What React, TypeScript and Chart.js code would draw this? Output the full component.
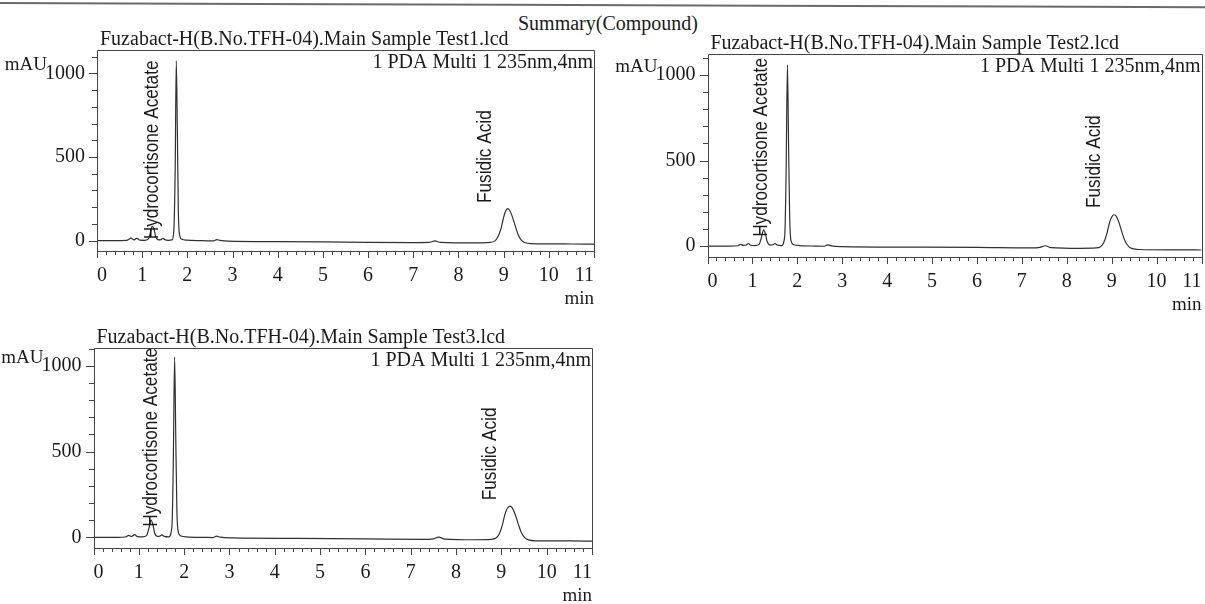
import React, { useEffect, useRef } from "react";
import { Chart, registerables } from "chart.js";

Chart.register(...registerables);

// ---------- data ----------
const pageTitle = "Summary(Compound)";
const chartTitles = [
  "Fuzabact-H(B.No.TFH-04).Main Sample Test1.lcd",
  "Fuzabact-H(B.No.TFH-04).Main Sample Test2.lcd",
  "Fuzabact-H(B.No.TFH-04).Main Sample Test3.lcd",
];
const detectorText = "1 PDA Multi 1 235nm,4nm";
const yUnit = "mAU";
const xUnit = "min";
const peakNames = ["Hydrocortisone Acetate", "Fusidic Acid"];

// axis tick labels
const xTickValues = [0, 1, 2, 3, 4, 5, 6, 7, 8, 9, 10, 11];
const yTickValues = [0, 500, 1000];

// retention times (min) / absorbance (mAU)
const test1Times = [
  0, 0.4, 0.65, 0.72, 0.75, 0.79, 0.83, 0.87, 0.9, 0.95, 1.05, 1.13, 1.18, 1.22, 1.26, 1.3, 1.36,
  1.42, 1.46, 1.5, 1.58, 1.66, 1.7, 1.73, 1.755, 1.78, 1.8, 1.83, 1.88, 1.98, 2.3, 2.58, 2.65,
  2.72, 2.9, 4.0, 5.5, 7.0, 7.35, 7.48, 7.6, 8.3, 8.7, 8.8, 8.87, 8.94, 9.0, 9.05, 9.09, 9.13,
  9.19, 9.26, 9.33, 9.4, 9.48, 9.6, 10.5, 11.0,
];
const test1Values = [
  0, 0, 1, 10, 16, 8, 5, 14, 12, 3, 2, 8, 45, 85, 70, 25, 5,
  6, 14, 6, 2, 4, 60, 420, 1075, 620, 180, 30, 8, 3, 0, -1, 6,
  2, -3, -6, -9, -12, -11, -2, -11, -14, -10, -3, 20, 70, 140, 180, 192, 183,
  145, 85, 30, 0, -13, -18, -20, -21,
];

const test2Times = [
  0, 0.5, 0.68, 0.74, 0.8, 0.86, 0.91, 0.96, 1.05, 1.15, 1.2, 1.25, 1.29, 1.33, 1.4, 1.46, 1.5,
  1.55, 1.65, 1.72, 1.75, 1.78, 1.805, 1.83, 1.86, 1.92, 2.05, 2.4, 2.6, 2.68, 2.76, 3.0, 4.5,
  6.0, 7.2, 7.4, 7.52, 7.65, 8.3, 8.65, 8.75, 8.82, 8.89, 8.95, 9.0, 9.05, 9.1, 9.16, 9.23, 9.3,
  9.38, 9.46, 9.6, 10.5, 11.0,
];
const test2Values = [
  0, 0, 2, 10, 4, 6, 15, 5, 3, 10, 50, 95, 70, 25, 6, 8, 15,
  6, 3, 60, 420, 1060, 600, 170, 30, 8, 3, 0, -1, 7, 1, -3, -6,
  -8, -11, -8, 2, -9, -13, -11, -4, 18, 70, 135, 170, 183, 175, 140, 80, 28,
  -3, -15, -20, -22, -23,
];

const test3Times = [
  0, 0.55, 0.7, 0.78, 0.84, 0.91, 0.97, 1.08, 1.17, 1.22, 1.27, 1.31, 1.35, 1.42, 1.47, 1.51,
  1.56, 1.66, 1.73, 1.76, 1.79, 1.815, 1.84, 1.87, 1.93, 2.05, 2.45, 2.64, 2.72, 2.8, 3.1, 4.5,
  6.0, 7.3, 7.5, 7.62, 7.75, 8.4, 8.78, 8.88, 8.95, 9.02, 9.08, 9.13, 9.19, 9.24, 9.3, 9.37,
  9.44, 9.52, 9.6, 9.75, 10.5, 11.0,
];
const test3Values = [
  0, 0, 2, 12, 5, 16, 4, 3, 10, 50, 100, 75, 25, 5, 8, 14,
  6, 3, 60, 420, 1050, 590, 160, 30, 8, 3, 0, -1, 7, 1, -3, -6,
  -9, -12, -9, 1, -10, -14, -12, -4, 18, 70, 135, 168, 182, 172, 138, 80,
  28, -3, -15, -20, -21, -22,
];

// peak label anchors (time, mAU) for each run
const hcLabelTimes = [1.22, 1.2, 1.27];
const hcLabelValues = [8, 54, 62];
const faLabelTimes = [8.59, 8.62, 8.76];
const faLabelValues = [225, 222, 216];

// axis ranges
const xRange = [0, 11];
const yMins = [-62, -61, -62];
const yMaxs = [1140, 1123, 1103];

// ---------- layout (page pixels) ----------
const PAGE_W = 1205;
const PAGE_H = 604;
const CANVAS_W = 1240;
const boxes = [
  { left: 97, right: 594, top: 50, bottom: 251 },
  { left: 707.5, right: 1201.5, top: 54, bottom: 256.5 },
  { left: 93.5, right: 592, top: 348, bottom: 548 },
];
const Y_AXIS_W = 60;
const X_AXIS_H = 45;

const SERIF = '"Liberation Serif", "Times New Roman", serif';
const SANS = '"Liberation Sans", Arial, sans-serif';
const INK = "#1b1b1b";
const LINE = "#303030";

function makeDecor(idx: number) {
  return {
    id: "panelDecor" + idx,
    afterDraw(chart: any) {
      const ctx = chart.ctx as CanvasRenderingContext2D;
      const a = chart.chartArea;
      const xs = chart.scales.x;
      const ys = chart.scales.y;
      ctx.save();
      // frame
      ctx.strokeStyle = "#444444";
      ctx.lineWidth = 1;
      const l = Math.round(a.left) + 0.5;
      const t = Math.round(a.top) + 0.5;
      const r = Math.round(a.right) + 0.5;
      const b = Math.round(a.bottom) + 0.5;
      ctx.beginPath();
      ctx.moveTo(l, t);
      ctx.lineTo(r, t);
      ctx.lineTo(r, b);
      ctx.lineTo(l, b);
      ctx.closePath();
      ctx.stroke();
      // x ticks (major 1 min, minor 0.2 min)
      ctx.beginPath();
      for (let i = 0; i <= 55; i++) {
        const px = Math.round(xs.getPixelForValue(i * 0.2)) + 0.5;
        const len = i % 5 === 0 ? 7 : 4;
        ctx.moveTo(px, Math.round(a.bottom));
        ctx.lineTo(px, Math.round(a.bottom) + len);
      }
      // y ticks (major 500, minor 100)
      for (let v = 0; v <= ys.max; v += 100) {
        const py = Math.round(ys.getPixelForValue(v)) + 0.5;
        const len = v % 500 === 0 ? 8 : 5;
        ctx.moveTo(Math.round(a.left), py);
        ctx.lineTo(Math.round(a.left) - len, py);
      }
      ctx.stroke();

      // texts
      ctx.fillStyle = INK;
      ctx.font = "20px " + SERIF;
      ctx.textBaseline = "alphabetic";
      ctx.textAlign = "left";
      ctx.fillText(chartTitles[idx], a.left + 3, a.top - 5);
      ctx.textAlign = "right";
      ctx.fillText(detectorText, a.right - 1, a.top + 18);
      ctx.font = "19px " + SERIF;
      ctx.fillText(yUnit, a.left - 50, ys.getPixelForValue(1000) - 3);
      ctx.fillText(xUnit, a.right, a.bottom + 53);

      // rotated peak labels
      const drawRot = (text: string, tm: number, v: number) => {
        ctx.save();
        ctx.translate(xs.getPixelForValue(tm), ys.getPixelForValue(v));
        ctx.rotate(-Math.PI / 2);
        ctx.scale(0.86, 1);
        ctx.font = "20px " + SANS;
        ctx.textAlign = "left";
        ctx.textBaseline = "middle";
        ctx.fillStyle = INK;
        ctx.fillText(text, 0, 0);
        ctx.restore();
      };
      drawRot(peakNames[0], hcLabelTimes[idx], hcLabelValues[idx]);
      drawRot(peakNames[1], faLabelTimes[idx], faLabelValues[idx]);
      ctx.restore();
    },
  };
}

const seriesTimes = [test1Times, test2Times, test3Times];
const seriesValues = [test1Values, test2Values, test3Values];

function Panel({ idx }: { idx: number }) {
  const ref = useRef<HTMLCanvasElement | null>(null);
  useEffect(() => {
    if (!ref.current) return;
    const box = boxes[idx];
    const pts = seriesTimes[idx].map((t, i) => ({ x: t, y: seriesValues[idx][i] }));
    const tickFont = { family: SERIF, size: 20 };
    const chart = new Chart(ref.current, {
      type: "line",
      data: {
        datasets: [
          {
            data: pts,
            borderColor: LINE,
            borderWidth: 1.2,
            pointRadius: 0,
            fill: false,
            cubicInterpolationMode: "monotone",
          },
        ],
      },
      options: {
        animation: false,
        responsive: false,
        devicePixelRatio: 1,
        events: [],
        layout: {
          padding: {
            left: box.left - Y_AXIS_W,
            right: CANVAS_W - box.right,
            top: box.top,
            bottom: PAGE_H - box.bottom - X_AXIS_H,
          },
        },
        plugins: {
          legend: { display: false },
          tooltip: { enabled: false },
          title: { display: false },
        },
        scales: {
          x: {
            type: "linear",
            min: xRange[0],
            max: xRange[1],
            border: { display: false },
            grid: { display: false, drawTicks: false },
            afterBuildTicks: (s: any) => {
              s.ticks = xTickValues.map((v) => ({ value: v }));
            },
            ticks: {
              autoSkip: false,
              maxRotation: 0,
              align: "inner",
              padding: 13,
              color: INK,
              font: tickFont,
              callback: (v: any) => String(v),
            },
            afterFit: (s: any) => {
              s.height = X_AXIS_H;
            },
          },
          y: {
            type: "linear",
            min: yMins[idx],
            max: yMaxs[idx],
            border: { display: false },
            grid: { display: false, drawTicks: false },
            afterBuildTicks: (s: any) => {
              s.ticks = yTickValues.map((v) => ({ value: v }));
            },
            ticks: {
              autoSkip: false,
              padding: 12,
              color: INK,
              font: tickFont,
              callback: (v: any) => String(v),
            },
            afterFit: (s: any) => {
              s.width = Y_AXIS_W;
            },
          },
        },
      } as any,
      plugins: [makeDecor(idx)],
    });
    return () => chart.destroy();
  }, [idx]);
  return (
    <canvas
      ref={ref}
      width={CANVAS_W}
      height={PAGE_H}
      style={{ position: "absolute", left: 0, top: 0, width: CANVAS_W, height: PAGE_H }}
    />
  );
}

export default function App() {
  return (
    <div
      style={{
        position: "absolute",
        left: 0,
        top: 0,
        width: PAGE_W,
        height: PAGE_H,
        background: "#ffffff",
        overflow: "hidden",
      }}
    >
      <div
        style={{
          position: "absolute",
          left: 0,
          top: 2,
          width: PAGE_W,
          height: 2,
          background: "#6a6a6a",
          transformOrigin: "left center",
          transform: "rotate(0.2deg)",
        }}
      />
      <div
        style={{
          position: "absolute",
          left: 518,
          top: 13,
          font: "20px " + SERIF,
          lineHeight: "20px",
          color: INK,
          whiteSpace: "nowrap",
        }}
      >
        {pageTitle}
      </div>
      <Panel idx={0} />
      <Panel idx={1} />
      <Panel idx={2} />
    </div>
  );
}
